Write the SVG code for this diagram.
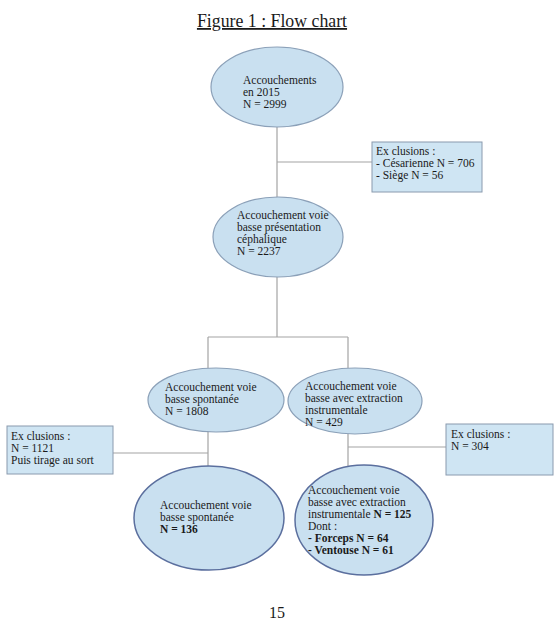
<svg xmlns="http://www.w3.org/2000/svg" width="560" height="626" viewBox="0 0 560 626">
<style>
text{font-family:"Liberation Serif","Times New Roman",serif;fill:#1a1a1a}
.t{font-size:11.5px}
.b{font-weight:bold}
.el{fill:#c9e0f0;stroke:#8ba0b8;stroke-width:1.2}
.el2{fill:#c9e0f0;stroke:#5b6f9e;stroke-width:1.5}
.bx{fill:#cfe5f3;stroke:#8a9aae;stroke-width:1}
.cn line{stroke:#a3a3a3;stroke-width:1.2}
</style>
<rect width="560" height="626" fill="#fff"/>
<text x="272" y="27" font-size="17.8" text-anchor="middle" text-decoration="underline">Figure 1 : Flow chart</text>
<g class="cn" id="connectors">
<line x1="277" y1="127" x2="277" y2="198"/>
<line x1="277" y1="162" x2="372" y2="162"/>
<line x1="277" y1="277" x2="277" y2="337"/>
<line x1="208" y1="337" x2="348" y2="337"/>
<line x1="208" y1="337" x2="208" y2="368"/>
<line x1="348" y1="337" x2="348" y2="368"/>
<line x1="208" y1="432" x2="208" y2="466"/>
<line x1="113" y1="453" x2="208" y2="453"/>
<line x1="348" y1="434" x2="348" y2="466"/>
<line x1="348" y1="447" x2="446" y2="447"/>
</g>
<g id="n1">
<ellipse class="el" cx="277" cy="87" rx="66" ry="40"/>
<text class="t" x="243" y="84">Accouchements</text>
<text class="t" x="243" y="96">en 2015</text>
<text class="t" x="243" y="108">N = 2999</text>
</g>
<g id="ex1">
<rect class="bx" x="372" y="142" width="110" height="50"/>
<text class="t" x="376" y="155">Ex clusions :</text>
<text class="t" x="376" y="167">- Césarienne N = 706</text>
<text class="t" x="376" y="179">- Siège N = 56</text>
</g>
<g id="n2">
<ellipse class="el" cx="278" cy="237" rx="65" ry="40"/>
<text class="t" x="237" y="219">Accouchement voie</text>
<text class="t" x="237" y="231">basse présentation</text>
<text class="t" x="237" y="243">céphalique</text>
<text class="t" x="237" y="255">N = 2237</text>
</g>
<g id="n3">
<ellipse class="el" cx="216" cy="400" rx="68" ry="32"/>
<text class="t" x="165" y="391">Accouchement voie</text>
<text class="t" x="165" y="403">basse spontanée</text>
<text class="t" x="165" y="415">N = 1808</text>
</g>
<g id="n4">
<ellipse class="el" cx="355" cy="401" rx="67" ry="33"/>
<text class="t" x="305" y="390">Accouchement voie</text>
<text class="t" x="305" y="402">basse avec extraction</text>
<text class="t" x="305" y="414">instrumentale</text>
<text class="t" x="305" y="426">N = 429</text>
</g>
<g id="ex2">
<rect class="bx" x="7" y="426" width="106" height="48"/>
<text class="t" x="11" y="440">Ex clusions :</text>
<text class="t" x="11" y="452">N = 1121</text>
<text class="t" x="11" y="464">Puis tirage au sort</text>
</g>
<g id="ex3">
<rect class="bx" x="446" y="424" width="107" height="51"/>
<text class="t" x="451" y="438">Ex clusions :</text>
<text class="t" x="451" y="450">N = 304</text>
</g>
<g id="n5">
<ellipse class="el2" cx="209" cy="518" rx="75" ry="52"/>
<text class="t" x="160" y="509">Accouchement voie</text>
<text class="t" x="160" y="521">basse spontanée</text>
<text class="t b" x="160" y="533">N = 136</text>
</g>
<g id="n6">
<ellipse class="el2" cx="364" cy="520" rx="69" ry="55"/>
<text class="t" x="308" y="494">Accouchement voie</text>
<text class="t" x="308" y="506">basse avec extraction</text>
<text class="t" x="308" y="518">instrumentale <tspan class="b">N = 125</tspan></text>
<text class="t" x="308" y="530">Dont :</text>
<text class="t b" x="308" y="542">- Forceps N = 64</text>
<text class="t b" x="308" y="554">- Ventouse N = 61</text>
</g>
<text x="277" y="618" font-size="16" text-anchor="middle">15</text>
</svg>
